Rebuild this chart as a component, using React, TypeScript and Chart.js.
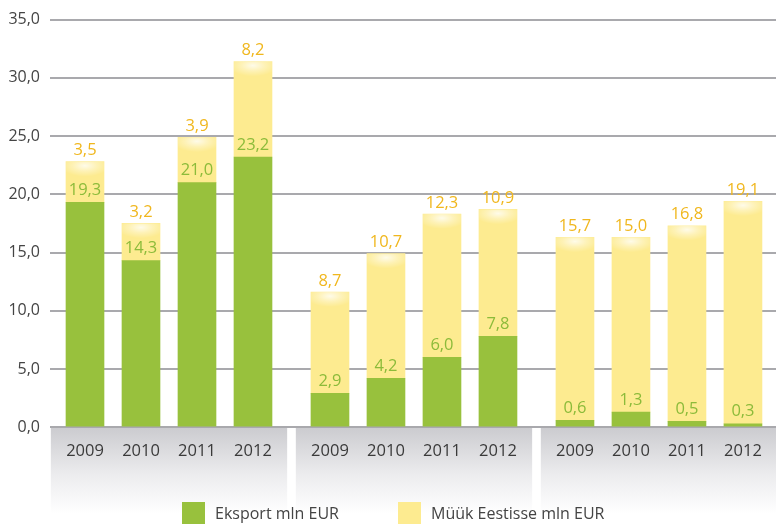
import React, { useEffect, useRef } from 'react';
import { Chart, registerables } from 'chart.js';

Chart.register(...registerables);

const years = ['2009', '2010', '2011', '2012'];
const groupCount = 3;
const eksport = [19.3, 14.3, 21.0, 23.2, 2.9, 4.2, 6.0, 7.8, 0.6, 1.3, 0.5, 0.3];
const myyk = [3.5, 3.2, 3.9, 8.2, 8.7, 10.7, 12.3, 10.9, 15.7, 15.0, 16.8, 19.1];
const seriesNames = ['Eksport mln EUR', 'Müük Eestisse mln EUR'];
const yMax = 35;
const yStep = 5;

const GREEN = '#98c13d';
const YELLOW = '#fdeb90';
const GREEN_LABEL = '#8cbb3a';
const YELLOW_LABEL = '#f0b71e';
const FONT = "'Open Sans', 'DejaVu Sans', sans-serif";

const GROUP_GAP = 0.375;
const groupStep = years.length + GROUP_GAP;
const xOf = (k: number) => Math.floor(k / years.length) * groupStep + (k % years.length);
const xValues = eksport.map((_, k) => xOf(k));

const fmt = (v: number) => v.toFixed(1).replace('.', ',');

const bgPlugin = {
  id: 'bgBoxes',
  beforeDraw(chart: any) {
    const { ctx, chartArea, scales } = chart;
    const xs = scales.x;
    for (let g = 0; g < groupCount; g++) {
      const first = g * groupStep;
      const last = first + years.length - 1;
      const x1 = Math.max(chartArea.left, xs.getPixelForValue(first - 0.61));
      const x2 = Math.min(chart.width, xs.getPixelForValue(last + 0.61));
      const top = chartArea.bottom;
      const h = 86;
      const grad = ctx.createLinearGradient(0, top, 0, top + h);
      grad.addColorStop(0, '#cbcbcf');
      grad.addColorStop(0.55, '#ececee');
      grad.addColorStop(1, 'rgba(255,255,255,1)');
      ctx.save();
      ctx.fillStyle = grad;
      ctx.fillRect(x1, top, x2 - x1, h);
      ctx.restore();
    }
  },
};

const decoPlugin = {
  id: 'deco',
  afterDatasetsDraw(chart: any) {
    const { ctx } = chart;
    const yMeta = chart.getDatasetMeta(1);
    yMeta.data.forEach((el: any) => {
      const w = el.width;
      ctx.save();
      ctx.beginPath();
      ctx.rect(el.x - w / 2, el.y, w, 22);
      ctx.clip();
      ctx.translate(el.x, el.y + 4);
      ctx.scale(1, 0.45);
      const r = 24;
      const grad = ctx.createRadialGradient(0, 0, 0, 0, 0, r);
      grad.addColorStop(0, 'rgba(255,255,255,0.8)');
      grad.addColorStop(0.5, 'rgba(255,255,255,0.35)');
      grad.addColorStop(1, 'rgba(255,255,255,0)');
      ctx.fillStyle = grad;
      ctx.fillRect(-r, -r, 2 * r, 2 * r);
      ctx.restore();
    });
    ctx.save();
    ctx.font = `16.5px ${FONT}`;
    ctx.textAlign = 'center';
    ctx.textBaseline = 'middle';
    const gMeta = chart.getDatasetMeta(0);
    gMeta.data.forEach((el: any, i: number) => {
      ctx.fillStyle = GREEN_LABEL;
      ctx.fillText(fmt(eksport[i]), el.x, el.y - 12);
    });
    yMeta.data.forEach((el: any, i: number) => {
      ctx.fillStyle = YELLOW_LABEL;
      ctx.fillText(fmt(myyk[i]), el.x, el.y - 11);
    });
    ctx.restore();
  },
  afterDraw(chart: any) {
    const { ctx } = chart;
    const cx = chart.width / 2;
    const items = [
      { x: cx - 206, color: GREEN, text: seriesNames[0] },
      { x: cx + 10, color: YELLOW, text: seriesNames[1] },
    ];
    ctx.save();
    ctx.font = `16px ${FONT}`;
    ctx.textBaseline = 'middle';
    ctx.textAlign = 'left';
    items.forEach((it) => {
      ctx.fillStyle = it.color;
      ctx.fillRect(it.x, 502, 23, 24);
      ctx.fillStyle = '#444444';
      ctx.fillText(it.text, it.x + 33, 514);
    });
    ctx.restore();
  },
};

export default function App() {
  const ref = useRef<HTMLCanvasElement>(null);
  useEffect(() => {
    document.body.style.margin = '0';
    document.body.style.overflow = 'hidden';
    const chart = new Chart(ref.current as HTMLCanvasElement, {
      type: 'bar',
      data: {
        datasets: [
          {
            label: seriesNames[0],
            data: eksport.map((v, k) => ({ x: xValues[k], y: v })),
            backgroundColor: GREEN,
            barThickness: 38,
          },
          {
            label: seriesNames[1],
            data: myyk.map((v, k) => ({ x: xValues[k], y: v })),
            backgroundColor: YELLOW,
            barThickness: 38,
          },
        ],
      },
      options: {
        animation: false,
        responsive: true,
        maintainAspectRatio: false,
        layout: { padding: { left: 0, right: 0, top: 19, bottom: 57 } },
        plugins: { legend: { display: false }, tooltip: { enabled: false } },
        scales: {
          x: {
            type: 'linear',
            stacked: true,
            offset: false,
            min: -0.625,
            max: 12.34,
            grid: { display: false },
            border: { display: false },
            afterBuildTicks: (scale: any) => {
              scale.ticks = xValues.map((v) => ({ value: v }));
            },
            ticks: {
              autoSkip: false,
              maxRotation: 0,
              padding: 6,
              color: '#3a3a3a',
              font: { family: FONT, size: 16.5 },
              callback: (value: any) => {
                const k = xValues.findIndex((v) => Math.abs(v - value) < 1e-6);
                return k >= 0 ? years[k % years.length] : '';
              },
            },
          },
          y: {
            stacked: true,
            min: 0,
            max: yMax,
            afterFit: (scale: any) => {
              scale.width = 50;
            },
            grid: { color: '#a9a9ad', lineWidth: 2, drawTicks: false },
            border: { display: false },
            ticks: {
              stepSize: yStep,
              padding: 10,
              color: '#444444',
              font: { family: FONT, size: 16 },
              callback: (v: any) => fmt(Number(v)),
            },
          },
        },
      },
      plugins: [bgPlugin, decoPlugin],
    } as any);
    return () => chart.destroy();
  }, []);
  return (
    <div style={{ width: 776, height: 524, position: 'relative' }}>
      <canvas ref={ref} />
    </div>
  );
}
